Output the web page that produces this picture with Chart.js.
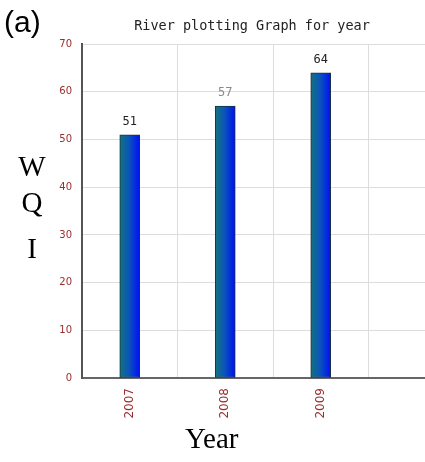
<!DOCTYPE html>
<html>
<head>
<meta charset="utf-8">
<script src="https://cdn.jsdelivr.net/npm/chart.js@4"></script>
<style>
  body { margin: 0; width: 425px; height: 462px; overflow: hidden; position: relative; background: #fff; }
  #wrap { position: absolute; left: 40px; top: 0; width: 424px; height: 462px; }
  .ov { position: absolute; color: #000; }
  #tag { left: 4px; top: 5px; font: 30px "Liberation Sans", Arial, sans-serif; }
  .wqi { font: 29px "Liberation Serif", "Times New Roman", serif; width: 34px; text-align: center; left: 15px; }
  #year { left: 185px; top: 422px; font: 29px "Liberation Serif", "Times New Roman", serif; }
</style>
</head>
<body>
<div id="wrap"><canvas id="chart"></canvas></div>
<div class="ov" id="tag">(a)</div>
<div class="ov wqi" style="top:150px">W</div>
<div class="ov wqi" style="top:186px">Q</div>
<div class="ov wqi" style="top:232px">I</div>
<div class="ov" id="year">Year</div>
<script>
const years = ["2007", "2008", "2009", ""];
const wqi = [51, 57, 64, null];
const yTicks = [0, 10, 20, 30, 40, 50, 60, 70];
const chartTitle = "River plotting Graph for year";

const labelColors = ["#222", "#8a8a8a", "#222"];
const tickRed = "#9b2c2c";

const ctx = document.querySelector("#chart").getContext("2d");

function barFill(context) {
  const chart = context.chart;
  if (!chart.chartArea) return "#0040d0";
  const x = chart.scales.x.getPixelForValue(context.dataIndex);
  const g = chart.ctx.createLinearGradient(x - 10, 0, x + 10, 0);
  g.addColorStop(0, "#13737f");
  g.addColorStop(0.45, "#0b56b8");
  g.addColorStop(1, "#0010f5");
  return g;
}

const valueLabels = {
  id: "valueLabels",
  afterDatasetsDraw(chart) {
    const c = chart.ctx;
    const meta = chart.getDatasetMeta(0);
    c.save();
    c.font = "12px 'DejaVu Sans Mono', monospace";
    c.textAlign = "center";
    c.textBaseline = "bottom";
    meta.data.forEach((bar, i) => {
      if (wqi[i] == null) return;
      c.fillStyle = labelColors[i];
      c.fillText(String(wqi[i]), bar.x, bar.y - 7);
    });
    c.restore();
  },
};

const myChart = new Chart(ctx, {
  type: "bar",
  data: {
    labels: years,
    datasets: [
      {
        data: wqi,
        backgroundColor: barFill,
        borderColor: "#1c3338",
        borderWidth: 1,
        borderSkipped: false,
        barThickness: 20,
      },
    ],
  },
  options: {
    responsive: true,
    maintainAspectRatio: false,
    animation: false,
    layout: { padding: { top: 0, right: 0, bottom: 34, left: 0 } },
    plugins: {
      legend: { display: false },
      tooltip: { enabled: false },
      title: {
        display: true,
        text: chartTitle,
        color: "#222",
        font: { family: "'DejaVu Sans Mono', monospace", size: 13.5, weight: "normal" },
        padding: { top: 18, bottom: 10 },
      },
    },
    scales: {
      x: {
        grid: { color: "#dddddd", drawTicks: false, offset: true },
        border: { color: "#666", width: 2 },
        ticks: {
          color: tickRed,
          font: { family: "'DejaVu Sans', sans-serif", size: 12 },
          minRotation: 90,
          maxRotation: 90,
          padding: 10,
        },
        afterFit: (scale) => { scale.height = 50; },
      },
      y: {
        min: 0,
        max: 70,
        afterBuildTicks: (scale) => { scale.ticks = yTicks.map((v) => ({ value: v })); },
        grid: { color: "#dddddd", drawTicks: false },
        border: { color: "#555", width: 2 },
        ticks: {
          color: tickRed,
          font: { family: "'DejaVu Sans', sans-serif", size: 10 },
          padding: 10,
        },
        afterFit: (scale) => { scale.width = 42; },
      },
    },
  },
  plugins: [valueLabels],
});
</script>
</body>
</html>
